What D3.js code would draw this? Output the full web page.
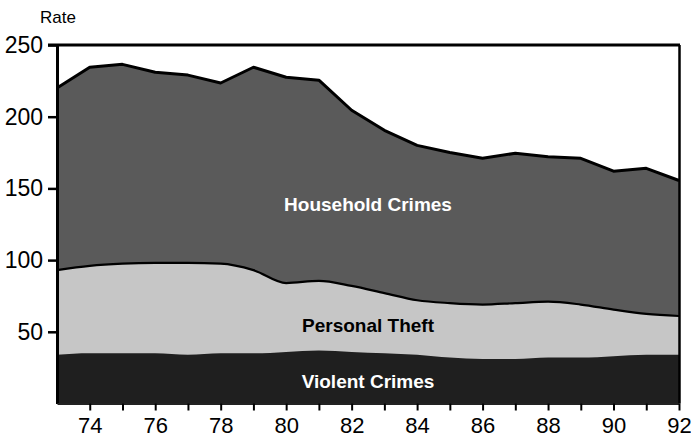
<!DOCTYPE html>
<html>
<head>
<meta charset="utf-8">
<script src="https://cdn.jsdelivr.net/npm/d3@7"></script>
<style>
  html, body { margin: 0; padding: 0; background: #fff; }
  svg { display: block; font-family: "Liberation Sans", Arial, Helvetica, sans-serif; }
</style>
</head>
<body>
<svg id="chart" width="691" height="438"></svg>
<script>
// ---- data (rates) ----
const years = [73,74,75,76,77,78,79,80,81,82,83,84,85,86,87,88,89,90,91,92];
const violent   = [34,35,35,35,34,35,35,36,37,36,35,34,32,31,31,32,32,33,34,34];
const theft     = [59,61,62.5,63,64,62.5,58,48,48.5,46,42,38,38,38,39,39,37,32.5,28.5,27];
const household = [127,138.5,139,133,131,126,141.5,143.5,140,122.5,113.5,108,105,102,104.5,101,102,96.5,101.5,94.5];
const yTicks = [50,100,150,200,250];
const xLabelYears = [74,76,78,80,82,84,86,88,90,92];
const seriesNames = ["Violent Crimes","Personal Theft","Household Crimes"];

const rows = years.map((y,i) => ({year:y, violent:violent[i], theft:theft[i], household:household[i]}));
const stack = d3.stack().keys(["violent","theft","household"])(rows);

const svg = d3.select("#chart");
const x = d3.scaleLinear().domain([73,92]).range([57,679]);
const y = d3.scaleLinear().domain([0,250]).range([403.5,45]);

const fills = {household:"#5a5a5a", theft:"#c6c6c6", violent:"#1f1f1f"};
const curves = {household:d3.curveLinear, theft:d3.curveMonotoneX, violent:d3.curveMonotoneX};

// paint from top layer down, each filled to baseline
const order = ["household","theft","violent"];
order.forEach(key => {
  const layer = stack.find(s => s.key === key);
  const area = d3.area().curve(curves[key])
    .x(d => x(d.data.year)).y0(y(0)).y1(d => y(d[1]));
  svg.append("path").datum(layer).attr("d", area).attr("fill", fills[key]);
});

// boundary lines
const topLayer = stack.find(s => s.key === "household");
svg.append("path").datum(topLayer)
  .attr("d", d3.line().curve(d3.curveLinear).x(d => x(d.data.year)).y(d => y(d[1])))
  .attr("fill","none").attr("stroke","#000").attr("stroke-width",3).attr("stroke-linejoin","round");
const midLayer = stack.find(s => s.key === "theft");
svg.append("path").datum(midLayer)
  .attr("d", d3.line().curve(d3.curveMonotoneX).x(d => x(d.data.year)).y(d => y(d[1])))
  .attr("fill","none").attr("stroke","#000").attr("stroke-width",2.2);

// frame
svg.append("line").attr("x1",48).attr("x2",680).attr("y1",y(250)).attr("y2",y(250))
  .attr("stroke","#000").attr("stroke-width",3);
svg.append("line").attr("x1",679.5).attr("x2",679.5).attr("y1",y(250)).attr("y2",y(0))
  .attr("stroke","#000").attr("stroke-width",2.5);

// y axis
const yAxis = d3.axisLeft(y).tickValues(yTicks).tickSize(9).tickPadding(5).tickSizeOuter(0);
const gy = svg.append("g").attr("transform","translate(57,0)").call(yAxis);
gy.select(".domain").attr("stroke","#000").attr("stroke-width",3);
gy.selectAll(".tick line").attr("stroke","#000").attr("stroke-width",2.5);
gy.selectAll(".tick text").attr("font-size",23).attr("fill","#000")
  .attr("font-family",'"Liberation Sans", Arial, sans-serif');

// x axis
const xAxis = d3.axisBottom(x).tickValues(years.slice(1)).tickSize(7).tickPadding(7).tickSizeOuter(0)
  .tickFormat(d => xLabelYears.includes(d) ? String(d) : "");
const gx = svg.append("g").attr("transform",`translate(0,${y(0)})`).call(xAxis);
gx.select(".domain").attr("stroke","#222").attr("stroke-width",2);
gx.selectAll(".tick line").attr("stroke","#000").attr("stroke-width",2);
gx.selectAll(".tick text").attr("font-size",22).attr("fill","#000")
  .attr("font-family",'"Liberation Sans", Arial, sans-serif');

// axis title
svg.append("text").attr("x",40).attr("y",23).text("Rate")
  .attr("font-size",17).attr("fill","#000");

// series labels
const labelPos = [
  {name:seriesNames[2], yr:82.5, v:134.5, color:"#fff"},
  {name:seriesNames[1], yr:82.5, v:50, color:"#000"},
  {name:seriesNames[0], yr:82.5, v:11, color:"#fff"}
];
labelPos.forEach(l => {
  svg.append("text").attr("x", x(l.yr)).attr("y", y(l.v))
    .attr("text-anchor","middle").attr("font-size",19).attr("font-weight","bold")
    .attr("fill", l.color).text(l.name);
});
</script>
</body>
</html>
